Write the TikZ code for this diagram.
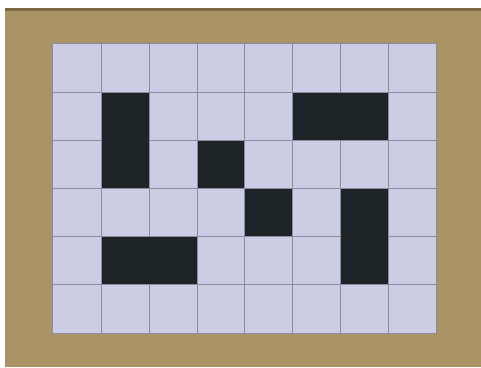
\documentclass[tikz,border=0pt]{standalone}
\definecolor{board}{RGB}{170,148,102}
\definecolor{boardedge}{RGB}{125,105,70}
\definecolor{paper}{RGB}{204,204,228}
\definecolor{ink}{RGB}{28,36,40}
\definecolor{gridline}{RGB}{140,140,158}
\tikzset{
  darkcell/.style={fill=ink, draw=none},
  gridl/.style={draw=gridline, line width=0.6pt}
}
\begin{document}
\begin{tikzpicture}[x=1pt,y=-1pt]
\useasboundingbox (0,0) rectangle (481,367);
\fill[white] (0,0) rectangle (481,367);
\fill[board] (5,8) rectangle (481,367);
\fill[boardedge] (5,8) rectangle (481,10.5);
\fill[paper] (52,43) rectangle (436,333);
% grid lines
\foreach \x in {101,149,197,244,292,340,388} \draw[gridl] (\x,43) -- (\x,333);
\foreach \y in {92,140,188,236,284} \draw[gridl] (52,\y) -- (436,\y);
\draw[gridl] (52,43) rectangle (436,333);
% dark cells
\fill[darkcell] (102,93) rectangle (149,188);
\fill[darkcell] (293,93) rectangle (388,140);
\fill[darkcell] (197.5,141) rectangle (244,188);
\fill[darkcell] (245,189) rectangle (292,236);
\fill[darkcell] (341,189) rectangle (388,284);
\fill[darkcell] (102,237) rectangle (197,284);
\end{tikzpicture}
\end{document}
